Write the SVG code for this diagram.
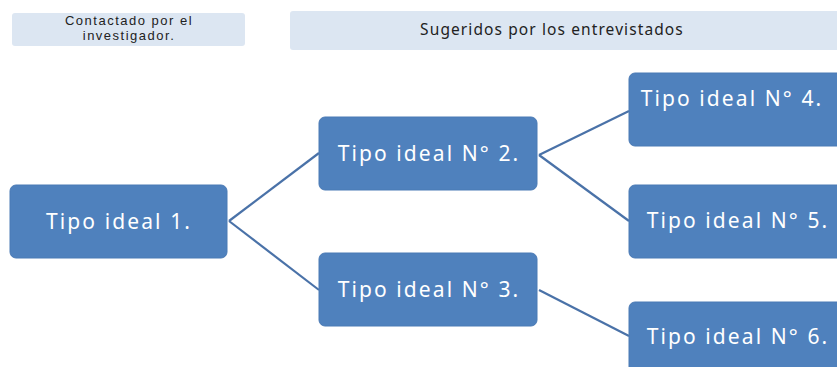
<svg xmlns="http://www.w3.org/2000/svg" width="837" height="367" viewBox="0 0 837 367">
<style>
.hdr{fill:#DCE6F2;}
.box{fill:#4F81BD;stroke:#4A7AB5;stroke-width:1;}
.ht{font-family:"Noto Sans","Liberation Sans",sans-serif;fill:#222;text-anchor:middle;}
.ht1{font-family:"Liberation Sans",Arial,sans-serif;fill:#222;text-anchor:middle;font-size:13px;letter-spacing:1.5px;}
.bt{font-family:"Noto Sans","Liberation Sans",sans-serif;fill:#fff;font-size:21px;letter-spacing:2.1px;text-anchor:middle;}
.con line{stroke:#4A72A8;stroke-width:2.2;}
</style>
<rect width="837" height="367" fill="#fff"/>
<g id="h1"><rect class="hdr" x="12" y="13" width="233" height="33" rx="3"/>
<text class="ht1" x="129" y="25">Contactado por el</text>
<text class="ht1" x="129" y="40">investigador.</text></g>
<g id="h2"><rect class="hdr" x="290" y="11" width="560" height="39" rx="3"/>
<text class="ht" font-size="15.5" letter-spacing="1.1" x="552" y="35">Sugeridos por los entrevistados</text></g>
<g class="con" id="connectors">
<line x1="229" y1="221" x2="319" y2="153"/>
<line x1="229" y1="221" x2="319" y2="290"/>
<line x1="539" y1="155" x2="629" y2="111"/>
<line x1="539" y1="155" x2="629" y2="221"/>
<line x1="539" y1="290" x2="629" y2="336"/>
</g>
<g id="n1"><rect class="box" x="10" y="185" width="217" height="73" rx="6"/><text class="bt" x="119" y="229">Tipo ideal 1.</text></g>
<g id="n2"><rect class="box" x="319" y="117" width="218" height="73" rx="6"/><text class="bt" x="429" y="161">Tipo ideal N° 2.</text></g>
<g id="n3"><rect class="box" x="319" y="253" width="218" height="73" rx="6"/><text class="bt" x="429" y="297">Tipo ideal N° 3.</text></g>
<g id="n4"><rect class="box" x="629" y="73" width="220" height="73" rx="6"/><text class="bt" x="732" y="106">Tipo ideal N° 4.</text></g>
<g id="n5"><rect class="box" x="629" y="185" width="220" height="73" rx="6"/><text class="bt" x="738" y="228">Tipo ideal N° 5.</text></g>
<g id="n6"><rect class="box" x="629" y="302" width="220" height="73" rx="6"/><text class="bt" x="738" y="344">Tipo ideal N° 6.</text></g>
</svg>
